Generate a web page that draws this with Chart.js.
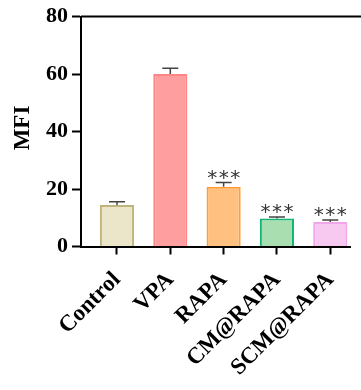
<!DOCTYPE html>
<html>
<head>
<meta charset="utf-8">
<script src="https://cdn.jsdelivr.net/npm/chart.js@4/dist/chart.umd.min.js"></script>
<style>
  html, body { margin: 0; padding: 0; background: #fff; }
  #wrap { width: 361px; height: 390px; }
</style>
</head>
<body>
<div id="wrap"><canvas id="myChart" width="361" height="390"></canvas></div>
<script>
// dati
const gruppi = ["Control", "VPA", "RAPA", "CM@RAPA", "SCM@RAPA"];
const mfi = [14.4, 60.0, 20.8, 9.7, 8.5];
const erroreSup = [15.6, 62.0, 22.3, 10.3, 9.2];
const significativita = ["", "", "***", "***", "***"];
const yTicks = [0, 20, 40, 60, 80];

const riempimento = ["#ebe5c9", "#ff9e9e", "#ffc080", "#a9deb0", "#f8c9f0"];
const bordo = ["#bfb57c", "#ff8585", "#ff9c33", "#14b574", "#f0a6e8"];

const serif = "'Liberation Serif', 'Times New Roman', serif";

// disegna barre d'errore, asterischi, titolo e linea in alto
const extra = {
  id: "extra",
  afterDatasetsDraw(chart) {
    const ctx = chart.ctx;
    const y = chart.scales.y;
    const area = chart.chartArea;
    const meta = chart.getDatasetMeta(0);
    ctx.save();
    meta.data.forEach((bar, i) => {
      const top = y.getPixelForValue(erroreSup[i]);
      ctx.strokeStyle = "#444";
      ctx.lineWidth = 1.5;
      ctx.beginPath();
      ctx.moveTo(bar.x, bar.y);
      ctx.lineTo(bar.x, top);
      ctx.moveTo(bar.x - 8, top);
      ctx.lineTo(bar.x + 8, top);
      ctx.stroke();
      if (significativita[i]) {
        ctx.fillStyle = "#333";
        ctx.font = "20px 'DejaVu Sans', sans-serif";
        ctx.textAlign = "center";
        ctx.textBaseline = "middle";
        const n = significativita[i].length;
        for (let k = 0; k < n; k++) {
          ctx.fillText("*", bar.x + (k - (n - 1) / 2) * 11.5, top - 4);
        }
      }
    });
    // linea superiore
    ctx.strokeStyle = "#000";
    ctx.lineWidth = 2;
    ctx.beginPath();
    ctx.moveTo(area.left, area.top);
    ctx.lineTo(chart.width, area.top);
    ctx.stroke();
    // titolo asse y
    ctx.translate(23.5, 128);
    ctx.rotate(-Math.PI / 2);
    ctx.fillStyle = "#000";
    ctx.font = "bold 23px " + serif;
    ctx.textAlign = "center";
    ctx.textBaseline = "middle";
    ctx.fillText("MFI", 0, 0);
    ctx.restore();
  }
};

new Chart(document.getElementById("myChart"), {
  type: "bar",
  data: {
    datasets: [
      {
        data: mfi.map((v, i) => ({ x: i, y: v })),
        backgroundColor: riempimento,
        borderColor: bordo,
        borderWidth: 2,
        barPercentage: 0.64,
        categoryPercentage: 1
      }
    ]
  },
  options: {
    responsive: false,
    animation: false,
    layout: { padding: { top: 16.5, right: 11, left: 0, bottom: 0 } },
    plugins: { legend: { display: false }, tooltip: { enabled: false } },
    scales: {
      x: {
        type: "linear",
        min: -0.675,
        max: 4.37,
        offset: false,
        afterBuildTicks: (s) => { s.ticks = gruppi.map((g, i) => ({ value: i })); },
        afterFit: (s) => { s.height = 143.5; s.paddingLeft = 0; s.paddingRight = 0; },
        border: { display: true, color: "#000", width: 2 },
        grid: { offset: false, drawOnChartArea: false, drawTicks: true, tickLength: 8, tickWidth: 2, tickColor: "#000" },
        ticks: {
          autoSkip: false,
          minRotation: 45,
          maxRotation: 45,
          padding: 12,
          color: "#000",
          font: { family: serif, size: 23, weight: "bold" },
          callback: (v) => gruppi[v]
        }
      },
      y: {
        min: 0,
        max: 80,
        afterBuildTicks: (s) => { s.ticks = yTicks.map((v) => ({ value: v })); },
        afterFit: (s) => { s.width = 81; s.paddingTop = 0; s.paddingBottom = 0; },
        border: { display: true, color: "#000", width: 2 },
        grid: { drawOnChartArea: false, drawTicks: true, tickLength: 9, tickWidth: 2, tickColor: "#000" },
        ticks: {
          padding: 4,
          color: "#000",
          font: { family: serif, size: 22, weight: "bold" }
        }
      }
    }
  },
  plugins: [extra]
});
</script>
</body>
</html>
